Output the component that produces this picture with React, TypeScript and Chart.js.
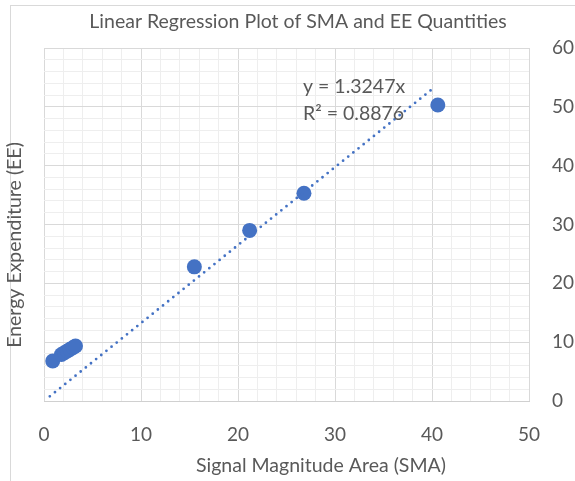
import { useEffect, useRef } from "react";
import { Chart, registerables } from "chart.js";

Chart.register(...registerables);

const chartTitle = "Linear Regression Plot of SMA and EE Quantities";
const xAxisTitle = "Signal Magnitude Area (SMA)";
const yAxisTitle = "Energy Expenditure (EE)";

const smaValues = [0.9, 1.8, 2.1, 2.4, 2.7, 3.0, 3.25, 15.5, 21.2, 26.8, 40.6];
const eeValues = [6.8, 7.9, 8.2, 8.5, 8.8, 9.1, 9.35, 22.8, 29.0, 35.3, 50.3];

const trendSlope = 1.3247;
const trendRSquared = 0.8876;
const trendXRange = [0.6, 40.1];

const xMax = 50;
const yMax = 60;
const majorStep = 10;
const minorStep = 2;

const blue = "#4472c4";
const textColor = "#595959";
const fontFamily = "Lato, 'Open Sans', sans-serif";

const textPlugin = {
  id: "textPlugin",
  afterDraw(chart: any) {
    const { ctx, scales } = chart;
    ctx.save();
    ctx.fillStyle = textColor;
    ctx.textAlign = "center";
    ctx.textBaseline = "middle";
    ctx.font = `19.5px ${fontFamily}`;
    ctx.fillText(chartTitle, 298, 22);
    ctx.font = `19.5px ${fontFamily}`;
    ctx.fillText(xAxisTitle, 321, 466);
    ctx.save();
    ctx.translate(15, 245);
    ctx.rotate(-Math.PI / 2);
    ctx.fillText(yAxisTitle, 0, 0);
    ctx.restore();
    const x = scales.x;
    const y = scales.y;
    ctx.textAlign = "left";
    ctx.font = `19.5px ${fontFamily}`;
    const lx = x.getPixelForValue(26.7);
    ctx.fillText(`y = ${trendSlope}x`, lx, y.getPixelForValue(53.4));
    ctx.fillText(`R² = ${trendRSquared}`, lx, y.getPixelForValue(48.8));
    ctx.restore();
  },
};

export default function App() {
  const ref = useRef<HTMLCanvasElement>(null);

  useEffect(() => {
    if (!ref.current) return;
    const points = smaValues.map((v, i) => ({ x: v, y: eeValues[i] }));
    const trend = trendXRange.map((v) => ({ x: v, y: trendSlope * v }));
    const gridColor = (c: any) =>
      c.tick && c.tick.value % majorStep === 0 ? "#d9d9d9" : "#eeeeee";
    const chart = new Chart(ref.current, {
      type: "scatter",
      data: {
        datasets: [
          {
            label: "trend",
            data: trend,
            showLine: true,
            borderColor: blue,
            borderWidth: 2.8,
            borderDash: [0, 6.6],
            borderCapStyle: "round",
            pointRadius: 0,
            order: 0,
          } as any,
          {
            label: "EE",
            data: points,
            backgroundColor: blue,
            borderColor: blue,
            borderWidth: 0,
            pointRadius: 7.5,
            order: 1,
          },
        ],
      },
      options: {
        animation: false,
        responsive: true,
        maintainAspectRatio: false,
        layout: { padding: { left: 44, top: 48, right: 0, bottom: 0 } },
        plugins: {
          legend: { display: false },
          tooltip: { enabled: false },
          title: { display: false },
        },
        scales: {
          x: {
            type: "linear",
            min: 0,
            max: xMax,
            afterFit: (s: any) => {
              s.height = 80;
            },
            ticks: {
              stepSize: minorStep,
              autoSkip: false,
              maxRotation: 0,
              padding: 22,
              color: textColor,
              font: { family: fontFamily, size: 19 },
              callback: (v: any) => (Number(v) % majorStep === 0 ? String(v) : ""),
            },
            grid: { color: gridColor, drawTicks: false, lineWidth: 1 },
            border: { display: true, color: "#d0d0d0" },
          },
          y: {
            type: "linear",
            position: "right",
            min: 0,
            max: yMax,
            afterFit: (s: any) => {
              s.width = 46;
            },
            ticks: {
              stepSize: minorStep,
              autoSkip: false,
              padding: 23,
              color: textColor,
              font: { family: fontFamily, size: 19 },
              callback: (v: any) => (Number(v) % majorStep === 0 ? String(v) : ""),
            },
            grid: { color: gridColor, drawTicks: false, lineWidth: 1 },
            border: { display: false },
          },
        },
      },
      plugins: [textPlugin],
    });
    return () => chart.destroy();
  }, []);

  return (
    <div
      style={{
        position: "fixed",
        left: 0,
        top: 0,
        width: 575,
        height: 481,
        background: "#ffffff",
        overflow: "hidden",
      }}
    >
      <div
        style={{
          position: "absolute",
          left: 10,
          top: 5,
          width: 600,
          height: 500,
          border: "1px solid #d9d9d9",
        }}
      />
      <div style={{ position: "absolute", left: 0, top: 0, width: 575, height: 481 }}>
        <canvas ref={ref} />
      </div>
    </div>
  );
}
